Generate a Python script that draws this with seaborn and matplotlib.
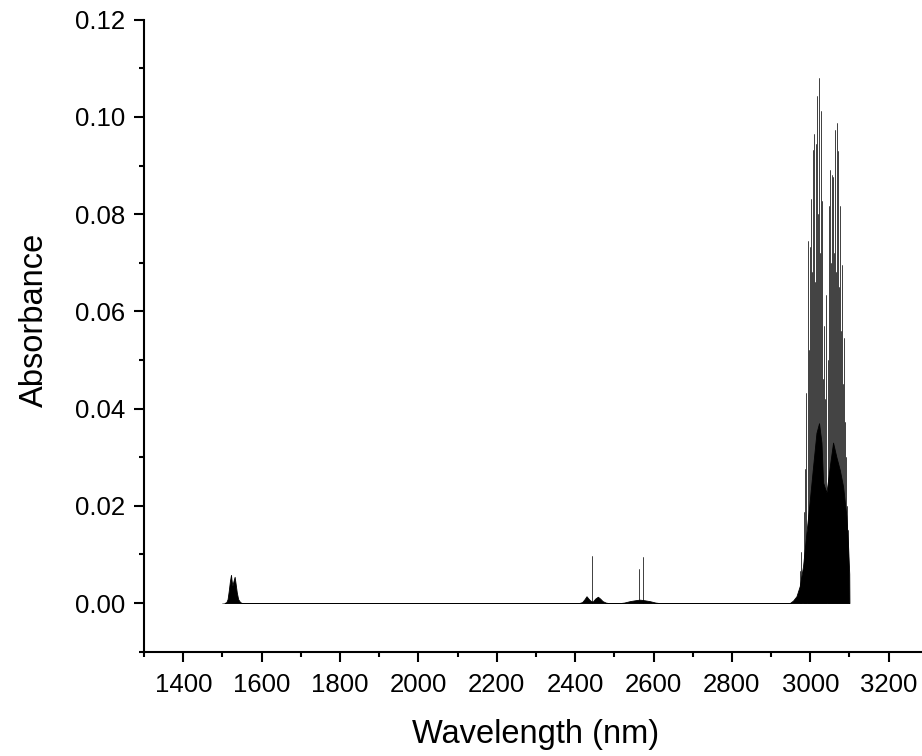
import numpy as np
import pandas as pd
import matplotlib
matplotlib.use("Agg")
import matplotlib.pyplot as plt
import seaborn as sns
from matplotlib.ticker import FixedLocator, FormatStrFormatter

# ---- data ----
# strong individual absorption lines (nm, absorbance)
line_nm = [2443.4, 2563.0, 2573.5,
           2973.2, 2977.6, 2983.4, 2986.0, 2990.3, 2994.4, 2996.5, 2998.7,
           3001.0, 3003.1, 3005.0, 3007.1, 3009.0, 3010.7, 3012.3, 3014.0,
           3016.2, 3018.4, 3020.5, 3022.4, 3024.6, 3026.8, 3029.0, 3031.1,
           3033.2, 3035.2, 3038.3, 3041.3, 3044.2, 3047.2, 3049.4, 3051.5,
           3053.6, 3055.6, 3057.4, 3059.2, 3061.2, 3063.3, 3065.5, 3067.6,
           3069.8, 3072.0, 3074.5, 3077.0, 3079.0, 3081.1, 3083.3, 3085.5,
           3088.0, 3090.2, 3092.3, 3094.5, 3097.0]
line_abs = [0.0096, 0.0070, 0.0094,
            0.0065, 0.0106, 0.0188, 0.0276, 0.0433, 0.0745, 0.0520, 0.0733,
            0.0600, 0.0832, 0.0680, 0.0931, 0.0700, 0.0965, 0.0660, 0.0944,
            0.0760, 0.1042, 0.0800, 0.1080, 0.0720, 0.1012, 0.0600, 0.0827,
            0.0460, 0.0569, 0.0420, 0.0634, 0.0500, 0.0816, 0.0620, 0.0891,
            0.0700, 0.0881, 0.0620, 0.0877, 0.0720, 0.0973, 0.0680, 0.0987,
            0.0750, 0.0929, 0.0650, 0.0816, 0.0560, 0.0696, 0.0450, 0.0546,
            0.0373, 0.0300, 0.0250, 0.0200, 0.0150]

# dense (unresolved) absorption envelope (nm, absorbance)
env_nm = [1505, 1510, 1513, 1516, 1519, 1521.7, 1523.5, 1525.5, 1528, 1531,
          1533.5, 1536.5, 1540, 1545, 1550,
          2410, 2418, 2424, 2429, 2434, 2440, 2445, 2451, 2458, 2464, 2470,
          2478, 2485,
          2515, 2525, 2540, 2555, 2565, 2575, 2590, 2605, 2615,
          2947.7, 2956, 2964.8, 2973.2, 2981.6, 2990.3, 2998.7, 3007.1,
          3015.8, 3022.4, 3028.6, 3032.7, 3041.3, 3049.7, 3058.2, 3066.8,
          3075.3, 3083.7, 3092.3, 3096.4, 3099.5, 3100]
env_abs = [0.0, 0.0002, 0.0008, 0.0025, 0.0045, 0.0058, 0.0045, 0.0036, 0.0045,
           0.0054, 0.0040, 0.0022, 0.0008, 0.0002, 0.0,
           0.0, 0.0002, 0.0008, 0.0014, 0.0009, 0.0004, 0.0003, 0.0009, 0.0013,
           0.0009, 0.0004, 0.0001, 0.0,
           0.0, 0.0001, 0.0004, 0.0006, 0.0007, 0.0006, 0.0004, 0.0001, 0.0,
           0.0, 0.0005, 0.0014, 0.0035, 0.0076, 0.0145, 0.0210, 0.0280,
           0.0350, 0.0370, 0.0330, 0.0248, 0.0227, 0.0280, 0.0330, 0.0300,
           0.0274, 0.0240, 0.0178, 0.0120, 0.0060, 0.0]

x_major = [1400, 1600, 1800, 2000, 2200, 2400, 2600, 2800, 3000, 3200]
y_major = [0.00, 0.02, 0.04, 0.06, 0.08, 0.10, 0.12]

# ---- stick spectrum table ----
xs, ys = [1500.0], [0.0]
for w, a in sorted(zip(line_nm, line_abs)):
    xs += [w, w, w]
    ys += [0.0, a, 0.0]
xs.append(3100.0)
ys.append(0.0)
df = pd.DataFrame({"Wavelength": xs, "Absorbance": ys})

sns.set_theme(style="ticks")
plt.rcParams["font.family"] = ["Liberation Sans", "DejaVu Sans"]
plt.rcParams["text.color"] = "black"
plt.rcParams["axes.labelcolor"] = "black"

fig = plt.figure(figsize=(9.22, 7.56), dpi=100)
ax = fig.add_axes([0.1563, 0.138, 0.850, 0.836])

sns.lineplot(data=df, x="Wavelength", y="Absorbance", sort=False,
             estimator=None, color="#444444", lw=0.42, ax=ax)
ax.fill_between(env_nm, 0, env_abs, color="black", lw=0.6, zorder=3)

ax.set_xlim(1300, 3300)
ax.set_ylim(-0.01, 0.12)
ax.xaxis.set_major_locator(FixedLocator(x_major))
ax.xaxis.set_minor_locator(FixedLocator([v + 100 for v in x_major] + [1300]))
ax.yaxis.set_major_locator(FixedLocator(y_major))
ax.yaxis.set_minor_locator(FixedLocator([v + 0.01 for v in y_major[:-1]] + [-0.01]))
ax.yaxis.set_major_formatter(FormatStrFormatter("%.2f"))

for s in ("top", "right"):
    ax.spines[s].set_visible(False)
for s in ("left", "bottom"):
    ax.spines[s].set_linewidth(1.5)
    ax.spines[s].set_color("black")

ax.tick_params(which="major", length=7.5, width=1.5, direction="out",
               labelsize=18.5, colors="black", pad=6)
ax.tick_params(axis="x", which="major", pad=8)
ax.tick_params(which="minor", length=3.8, width=1.5, direction="out",
               colors="black")

ax.set_xlabel("Wavelength (nm)", fontsize=23.5)
ax.set_ylabel("Absorbance", fontsize=23.5)
ax.xaxis.set_label_coords(0.5, -0.106)
ax.yaxis.set_label_coords(-0.12, 0.525)

fig.savefig("out.png", dpi=100)
